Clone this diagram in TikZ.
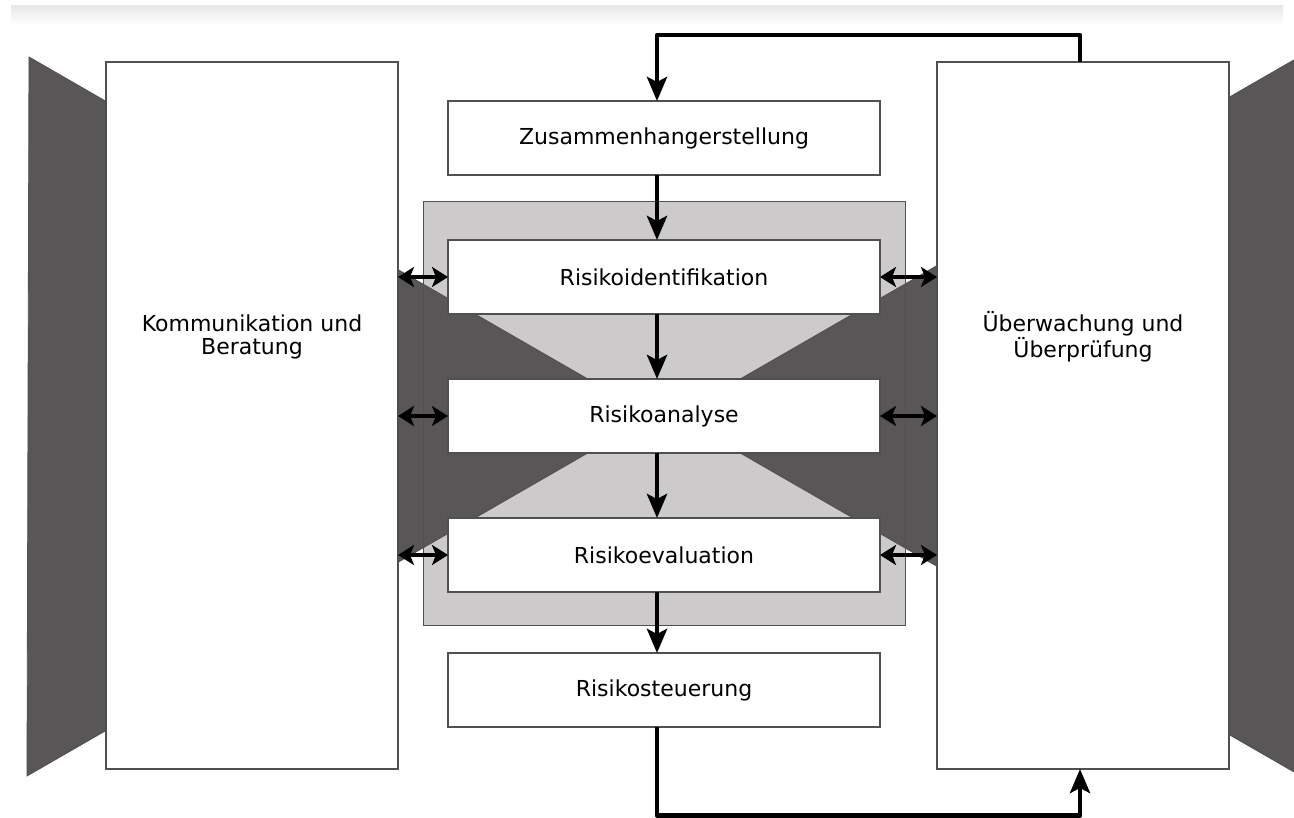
\documentclass[tikz,border=0pt]{standalone}
\usepackage{fontspec}
\setmainfont{DejaVu Sans}
\usetikzlibrary{arrows.meta}
\usetikzlibrary{positioning}
\definecolor{panel}{RGB}{88,86,87}
\definecolor{frame}{RGB}{204,202,203}
\definecolor{edge}{RGB}{80,80,80}
\tikzset{
  label font/.style={font=\fontsize{22}{23}\selectfont},
  box/.style={draw=edge,line width=1.2pt,fill=white,minimum width=432pt,minimum height=74pt,inner sep=0pt,outer sep=0pt,label font},
  side/.style={draw=edge,line width=1.2pt,fill=white,minimum width=292pt,minimum height=707pt,inner sep=0pt,outer sep=0pt},
  flow/.style={line width=4.5pt,line join=round,-{Stealth[length=24pt,width=20pt,inset=5pt]}},
  both/.style={line width=4.5pt,{Stealth[length=16pt,width=20pt,inset=4pt]}-{Stealth[length=16pt,width=20pt,inset=4pt]}},
}

\begin{document}
\begin{tikzpicture}[x=1pt,y=-1pt,node distance=65pt]
   \useasboundingbox (0,0) rectangle (1294,818);
   \clip (0,0) rectangle (1294,818);
   \fill[white] (0,0) rectangle (1294,818);
   \shade[top color=black!9,bottom color=white] (11,6) rectangle (1283,25);

   % grey frame and the two dark panels
   \fill[frame] (423,202) rectangle (905,625);
   \filldraw[panel,draw=edge,line width=0.8pt] (29,57) -- (652,416) -- (27,776) -- cycle;
   \filldraw[panel,draw=edge,line width=0.8pt] (1299,57) -- (676,416) -- (1301,776) -- cycle;
   \draw[edge,line width=1pt] (423,202) rectangle (905,625);

   \node[side] (kom) at (252,415.5) {};
   \node[side] (ueb) at (1083,415.5) {};
   \node[label font,align=center] (kom-text) at (252,337) {Kommunikation und\\Beratung};
   \node[label font,align=center] (ueb-text) at (1083,337) {Überwachung und\\Überprüfung};

   \node[box] (zus) at (664,138) {Zusammenhangerstellung};
   \node[box,below=of zus] (rid) {Risikoidentifikation};
   \node[box,below=of rid] (ran) {Risikoanalyse};
   \node[box,below=of ran] (rev) {Risikoevaluation};
   \node[box,below=61pt of rev] (rst) {Risikosteuerung};

   \draw[flow] ([xshift=-7pt]zus.south) -- ([xshift=-7pt]rid.north);
   \draw[flow] ([xshift=-7pt]rid.south) -- ([xshift=-7pt]ran.north);
   \draw[flow] ([xshift=-7pt]ran.south) -- ([xshift=-7pt]rev.north);
   \draw[flow] ([xshift=-7pt]rev.south) -- ([xshift=-7pt]rst.north);

   \foreach \n in {rid,ran,rev}{
     \draw[both] (kom.east |- \n) -- (\n.west);
     \draw[both] (\n.east) -- (ueb.west |- \n);
   }

   % feedback loops
   \coordinate (loop-high) at (0,35);
   \coordinate (loop-low) at (0,815.5);
   \draw[flow] ([xshift=-3pt]ueb.north) -- ([xshift=-3pt]ueb.north |- loop-high) -| ([xshift=-7pt]zus.north);
   \draw[flow] ([xshift=-7pt]rst.south) -- ([xshift=-7pt]rst.south |- loop-low) -| ([xshift=-3pt]ueb.south);
\end{tikzpicture}
\end{document}
